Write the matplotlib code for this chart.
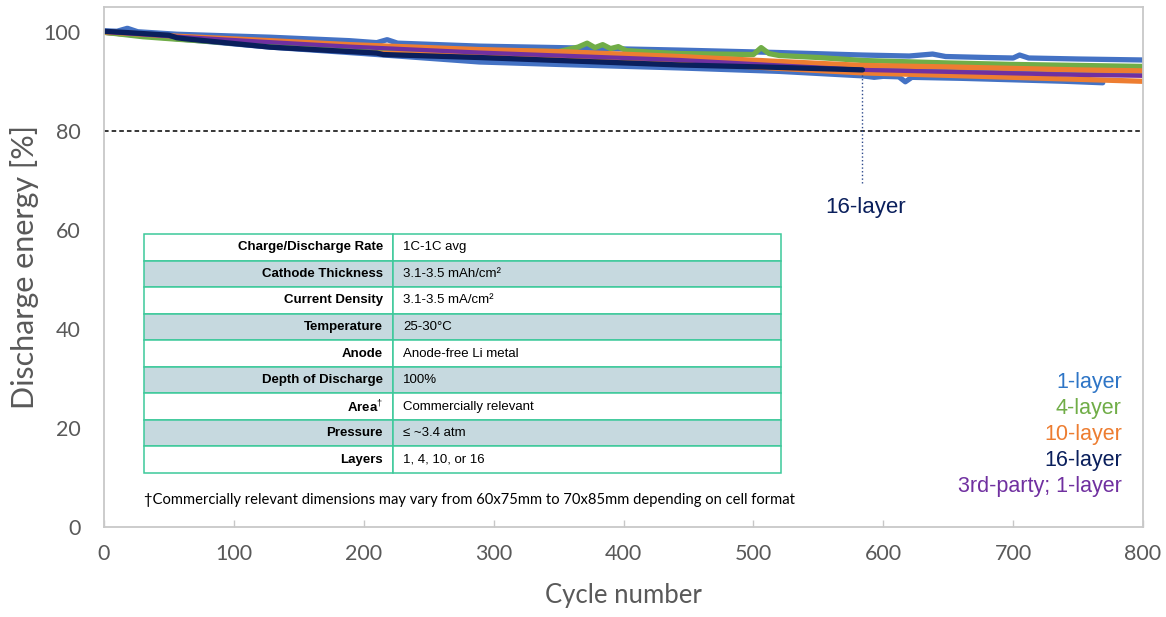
import matplotlib
matplotlib.use("Agg")
import matplotlib.pyplot as plt
from matplotlib.table import Table
from matplotlib import font_manager

# cycle / discharge energy readings for each cell
blue_a_cyc = [0, 10, 18, 26, 56, 128, 189, 210, 218, 226, 289, 350, 443, 520, 584, 620, 638, 648, 680, 700, 705, 712, 750, 800]
blue_a_val = [100.2, 100.1, 100.7, 100.0, 99.5, 98.9, 98.2, 97.8, 98.4, 97.7, 97.1, 96.8, 96.3, 95.8, 95.3, 95.1, 95.5, 95.0, 94.8, 94.7, 95.3, 94.7, 94.5, 94.3]
blue_b_cyc = [0, 56, 128, 200, 289, 350, 443, 520, 584, 593, 600, 612, 617, 622, 660, 700, 740, 769]
blue_b_val = [99.9, 98.6, 96.9, 95.6, 93.9, 93.4, 92.7, 92.0, 91.1, 90.8, 91.0, 90.9, 89.9, 90.8, 90.6, 90.3, 90.0, 89.7]
blue_c_cyc = [0, 128, 289, 443, 584, 700, 800]
blue_c_val = [100.0, 97.8, 95.6, 94.0, 92.6, 92.0, 91.6]

green_cyc = [0, 30, 56, 128, 200, 250, 300, 350, 365, 372, 378, 384, 390, 396, 402, 420, 443, 470, 500, 506, 512, 520, 550, 584, 650, 700, 750, 800]
green_val = [99.9, 99.0, 98.5, 97.2, 96.8, 96.5, 96.2, 96.0, 96.9, 97.7, 96.8, 97.4, 96.6, 97.0, 96.2, 95.9, 95.6, 95.5, 95.4, 96.8, 95.6, 95.2, 94.8, 94.2, 93.7, 93.4, 93.2, 93.0]

orange_a_cyc = [0, 56, 128, 189, 289, 350, 443, 520, 584, 650, 700, 750, 800]
orange_a_val = [100.0, 99.1, 98.2, 97.4, 96.4, 96.0, 95.0, 94.0, 93.2, 92.9, 92.6, 92.3, 92.1]
orange_b_cyc = [0, 56, 128, 189, 289, 350, 443, 520, 584, 650, 700, 750, 800]
orange_b_val = [99.9, 98.7, 97.5, 96.6, 95.3, 94.6, 93.8, 92.6, 91.7, 91.2, 90.8, 90.4, 90.0]

purple_cyc = [0, 56, 128, 189, 289, 350, 443, 520, 584, 650, 700, 750, 800]
purple_val = [100.0, 99.0, 97.9, 97.0, 95.8, 95.2, 94.3, 93.2, 92.3, 91.9, 91.6, 91.3, 91.1]

navy_cyc = [0, 20, 50, 56, 62, 128, 189, 210, 215, 289, 350, 443, 520, 584]
navy_val = [100.1, 99.8, 99.3, 98.8, 98.6, 96.9, 96.0, 95.7, 95.4, 94.8, 94.2, 93.3, 92.8, 92.3]

table_labels = ["Charge/Discharge Rate", "Cathode Thickness", "Current Density", "Temperature",
                "Anode", "Depth of Discharge", "Area$^{\\dagger}$", "Pressure", "Layers"]
table_values = ["1C-1C avg", "3.1-3.5 mAh/cm²", "3.1-3.5 mA/cm²", "25-30°C",
                "Anode-free Li metal", "100%", "Commercially relevant", "≤ ~3.4 atm", "1, 4, 10, or 16"]

legend_names = ["1-layer", "4-layer", "10-layer", "16-layer", "3rd-party; 1-layer"]
legend_colors = ["#2E75C6", "#70AD47", "#ED7D31", "#0A1F5C", "#7030A0"]

installed = {f.name for f in font_manager.fontManager.ttflist}
if 'Liberation Sans Narrow' in installed:
    tfam, tsize = ['Liberation Sans Narrow', 'Liberation Sans', 'DejaVu Sans'], 11
    plt.rcParams['mathtext.bf'] = 'Liberation Sans Narrow:bold'
else:
    tfam, tsize = ['Liberation Sans', 'DejaVu Sans'], 9.5
    plt.rcParams['mathtext.bf'] = 'Liberation Sans:bold'
plt.rcParams['mathtext.fontset'] = 'custom'
plt.rcParams['mathtext.rm'] = 'Liberation Sans'

fig = plt.figure(figsize=(11.66, 6.17), dpi=100)
ax = fig.add_axes([104 / 1166, 90 / 617, 1039 / 1166, 520 / 617])

blue = "#4472C4"
lw = 3.8
ax.plot(blue_b_cyc, blue_b_val, color=blue, lw=lw, solid_capstyle='round')
ax.plot(blue_c_cyc, blue_c_val, color=blue, lw=lw, solid_capstyle='round')
ax.plot(blue_a_cyc, blue_a_val, color=blue, lw=lw, solid_capstyle='round')
ax.plot(orange_b_cyc, orange_b_val, color="#ED7D31", lw=lw, solid_capstyle='round')
ax.plot(green_cyc, green_val, color="#70AD47", lw=lw, solid_capstyle='round')
ax.plot(orange_a_cyc, orange_a_val, color="#ED7D31", lw=lw, solid_capstyle='round')
ax.plot(purple_cyc, purple_val, color="#7030A0", lw=lw * 0.8, solid_capstyle='round')
ax.plot(navy_cyc, navy_val, color="#0A1F5C", lw=lw, solid_capstyle='round')

# 80% line
ax.plot([0, 800], [80, 80], color="black", lw=1.1, ls=(0, (3, 2)))

# 16-layer marker
ax.plot([navy_cyc[-1], navy_cyc[-1]], [69.5, navy_val[-1] - 0.6], color="#2E4A8C", lw=1, ls=':')
ax.text(586, 64.6, "16-layer", color="#0A1F5C", fontsize=16, ha='center', va='center',
        family='Liberation Sans')

ax.set_xlim(0, 800)
ax.set_ylim(0, 105)
ax.set_xticks(range(0, 801, 100))
ax.set_yticks(range(0, 101, 20))
for s in ax.spines.values():
    s.set_color("#C8C8C8")
    s.set_linewidth(1.3)
ax.tick_params(axis='x', direction='in', length=5, color="#C8C8C8", width=1,
               labelsize=15.5, labelcolor="#595959", pad=12)
ax.tick_params(axis='y', length=0, labelsize=15.5, labelcolor="#595959", pad=17)
for lab in ax.get_xticklabels() + ax.get_yticklabels():
    lab.set_family('Lato')

ax.set_xlabel("Cycle number", fontsize=18.5, color="#595959", family='Lato', labelpad=14)
ax.set_ylabel("Discharge energy [%]", fontsize=22, color="#595959", family='Lato', labelpad=3)

# parameter table
tb = Table(ax, bbox=[40 / 1039, 54 / 520, 637 / 1039, 239 / 520])
nrows = len(table_labels)
for i in range(nrows):
    fc = "#C6D9DF" if i % 2 == 1 else "white"
    c0 = tb.add_cell(i, 0, 249 / 637, 1 / nrows, text=table_labels[i], loc='right', facecolor=fc)
    c1 = tb.add_cell(i, 1, 388 / 637, 1 / nrows, text=table_values[i], loc='left', facecolor=fc)
    c0.PAD = 0.04
    c1.PAD = 0.026
    for c in (c0, c1):
        c.set_edgecolor("#3CC99A")
        c.set_linewidth(1.1)
        c.get_text().set_family(tfam)
    c0.get_text().set_fontweight('bold')
tb.auto_set_font_size(False)
tb.set_fontsize(tsize)
ax.add_table(tb)

ax.text(30.8, 5.4, "†Commercially relevant dimensions may vary from 60x75mm to 70x85mm depending on cell format",
        fontsize=10.6, family='Lato', color='black', ha='left', va='center')

# legend text
for i, (name, col) in enumerate(zip(legend_names, legend_colors)):
    ax.text(783.7, 29.1 - i * 5.25, name, color=col, fontsize=15.5, ha='right', va='center',
            family='Liberation Sans')

fig.savefig("out.png", dpi=100)
